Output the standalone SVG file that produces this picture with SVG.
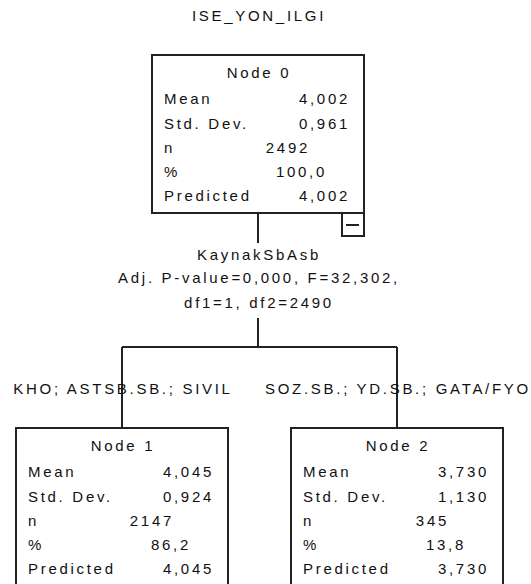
<svg xmlns="http://www.w3.org/2000/svg" width="531" height="584" viewBox="0 0 531 584">
<style>
text{font-family:"Liberation Sans",Arial,sans-serif;font-size:15px;letter-spacing:2.7px;fill:#111}
.c{text-anchor:middle}
.e{text-anchor:end}
.box{fill:#fff;stroke:#222;stroke-width:2}
.ln{fill:none;stroke:#222;stroke-width:2}
</style>
<rect width="531" height="584" fill="#fff"/>
<text class="c" x="259" y="21">ISE_YON_ILGI</text>
<g id="connectors">
<path class="ln" d="M258 213V243M258 318V347M122 347H397M122 347V428M397 347V428"/>
<text class="c" x="259" y="260">KaynakSbAsb</text>
<text class="c" x="259" y="283">Adj. P-value=0,000, F=32,302,</text>
<text class="c" x="259" y="308">df1=1, df2=2490</text>
<text class="c" x="123" y="394">KHO; ASTSB.SB.; SIVIL</text>
<text class="c" x="398" y="394">SOZ.SB.; YD.SB.; GATA/FYO</text>
</g>
<g id="node0">
<rect class="box" x="152" y="55" width="212" height="158"/>
<text class="c" x="259" y="78">Node 0</text>
<text x="164" y="104">Mean</text><text class="e" x="350" y="104">4,002</text>
<text x="164" y="129">Std. Dev.</text><text class="e" x="350" y="129">0,961</text>
<text x="164" y="153">n</text><text class="e" x="310" y="153">2492</text>
<text x="164" y="177">%</text><text class="e" x="327" y="177">100,0</text>
<text x="164" y="201">Predicted</text><text class="e" x="350" y="201">4,002</text>
<rect class="box" x="342" y="213" width="22" height="23"/>
<path class="ln" d="M346 225H359"/>
</g>
<g id="node1">
<rect class="box" x="16" y="428" width="212" height="158"/>
<text class="c" x="123" y="451">Node 1</text>
<text x="28" y="477">Mean</text><text class="e" x="214" y="477">4,045</text>
<text x="28" y="502">Std. Dev.</text><text class="e" x="214" y="502">0,924</text>
<text x="28" y="526">n</text><text class="e" x="174" y="526">2147</text>
<text x="28" y="550">%</text><text class="e" x="191" y="550">86,2</text>
<text x="28" y="574">Predicted</text><text class="e" x="214" y="574">4,045</text>
</g>
<g id="node2">
<rect class="box" x="291" y="428" width="212" height="158"/>
<text class="c" x="398" y="451">Node 2</text>
<text x="303" y="477">Mean</text><text class="e" x="489" y="477">3,730</text>
<text x="303" y="502">Std. Dev.</text><text class="e" x="489" y="502">1,130</text>
<text x="303" y="526">n</text><text class="e" x="449" y="526">345</text>
<text x="303" y="550">%</text><text class="e" x="466" y="550">13,8</text>
<text x="303" y="574">Predicted</text><text class="e" x="489" y="574">3,730</text>
</g>
</svg>
